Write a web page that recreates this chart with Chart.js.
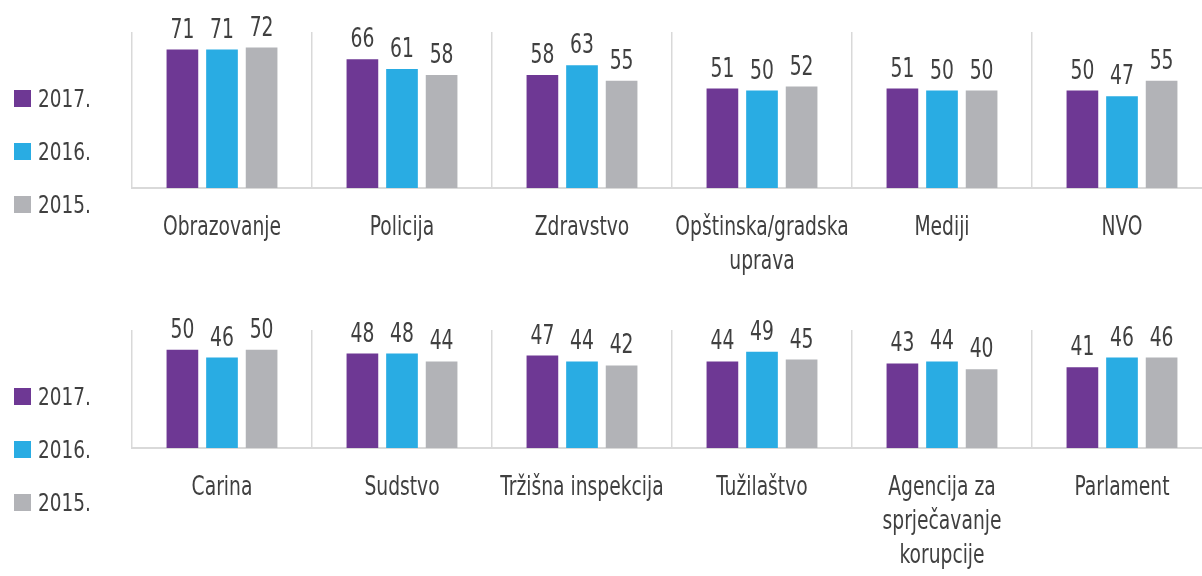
<!DOCTYPE html>
<html>
<head>
<meta charset="utf-8">
<script src="https://cdn.jsdelivr.net/npm/chart.js@4"></script>
<style>
  html, body { margin: 0; padding: 0; background: #fff; overflow: hidden; }
  .panel { position: relative; width: 1212px; }
  .legend { position: absolute; left: 14px; font: 25px 'Liberation Sans Narrow', 'DejaVu Sans Condensed', sans-serif; color: #404040; }
  .legend div { display: flex; align-items: center; height: 28px; margin-bottom: 25px; white-space: nowrap; }
  .legend span.box { width: 17px; height: 17px; margin-right: 7px; display: inline-block; }
  .legend span.txt { display: inline-block; transform: scaleX(0.82); transform-origin: left center; }
</style>
</head>
<body>
<div class="panel" style="height:290px">
  <div class="legend" id="legendTop" style="top:84px"></div>
  <canvas id="chartTop" width="1212" height="290"></canvas>
</div>
<div class="panel" style="height:286px">
  <div class="legend" id="legendBottom" style="top:92px"></div>
  <canvas id="chartBottom" width="1212" height="286"></canvas>
</div>
<script>
// series names and colours
const seriesNames = ['2017.', '2016.', '2015.'];
const seriesColors = ['#6e3894', '#29ace3', '#b2b3b7'];

// top panel
const topCategories = ['Obrazovanje', 'Policija', 'Zdravstvo', ['Opštinska/gradska', 'uprava'], 'Mediji', 'NVO'];
const top2017 = [71, 66, 58, 51, 51, 50];
const top2016 = [71, 61, 63, 50, 50, 47];
const top2015 = [72, 58, 55, 52, 50, 55];

// bottom panel
const bottomCategories = ['Carina', 'Sudstvo', 'Tržišna inspekcija', 'Tužilaštvo', ['Agencija za', 'sprječavanje', 'korupcije'], 'Parlament'];
const bottom2017 = [50, 48, 47, 44, 43, 41];
const bottom2016 = [46, 48, 44, 49, 44, 46];
const bottom2015 = [50, 44, 42, 45, 40, 46];

const FONT = "'Liberation Sans Narrow', 'DejaVu Sans Condensed', sans-serif";
const TEXT = '#404040';
const SQUEEZE = 0.8; // the original font is narrower than anything installed

function narrowText(ctx, str, x, y) {
  ctx.save();
  ctx.translate(x, y);
  ctx.scale(SQUEEZE, 1);
  ctx.fillText(str, 0, 0);
  ctx.restore();
}

// values above the bars and the category names under the axis
const textLayer = {
  id: 'textLayer',
  afterDatasetsDraw(chart) {
    const ctx = chart.ctx;
    ctx.save();
    ctx.font = '26px ' + FONT;
    ctx.fillStyle = TEXT;
    ctx.textAlign = 'center';
    ctx.textBaseline = 'alphabetic';
    chart.data.datasets.forEach((ds, i) => {
      chart.getDatasetMeta(i).data.forEach((bar, j) => {
        narrowText(ctx, String(ds.data[j]), bar.x, bar.y - 12);
      });
    });

    const xs = chart.scales.x;
    const lh = 34;
    ctx.textBaseline = 'middle';
    chart.data.labels.forEach((label, i) => {
      const lines = Array.isArray(label) ? label : [label];
      const x = xs.getPixelForValue(i);
      lines.forEach((line, k) => {
        narrowText(ctx, line, x, xs.top + 23 + lh / 2 + k * lh);
      });
    });
    ctx.restore();
  }
};

function buildLegend(id) {
  const el = document.getElementById(id);
  seriesNames.forEach((name, i) => {
    const row = document.createElement('div');
    row.innerHTML = `<span class="box" style="background:${seriesColors[i]}"></span><span class="txt">${name}</span>`;
    el.appendChild(row);
  });
}

function makeChart(canvasId, labels, values, yMax, topPad, axisHeight) {
  const ctx = document.getElementById(canvasId).getContext('2d');
  return new Chart(ctx, {
    type: 'bar',
    data: {
      labels: labels,
      datasets: values.map((data, i) => ({
        label: seriesNames[i],
        data: data,
        backgroundColor: seriesColors[i],
        borderWidth: 0,
        categoryPercentage: 0.66,
        barPercentage: 0.8
      }))
    },
    options: {
      responsive: false,
      animation: false,
      layout: { padding: { left: 132, top: topPad, right: 0, bottom: 0 } },
      plugins: {
        legend: { display: false },
        tooltip: { enabled: false }
      },
      scales: {
        x: {
          grid: { color: '#d9d9d9', lineWidth: 1.5, drawTicks: false, offset: true },
          border: { color: '#d9d9d9', width: 2 },
          ticks: { display: false },
          afterFit: s => { s.height = axisHeight; }
        },
        y: {
          display: false,
          min: 0,
          max: yMax
        }
      }
    },
    plugins: [textLayer]
  });
}

buildLegend('legendTop');
buildLegend('legendBottom');
makeChart('chartTop', topCategories, [top2017, top2016, top2015], 80, 32, 102);
makeChart('chartBottom', bottomCategories, [bottom2017, bottom2016, bottom2015], 60, 40, 128);
</script>
</body>
</html>
